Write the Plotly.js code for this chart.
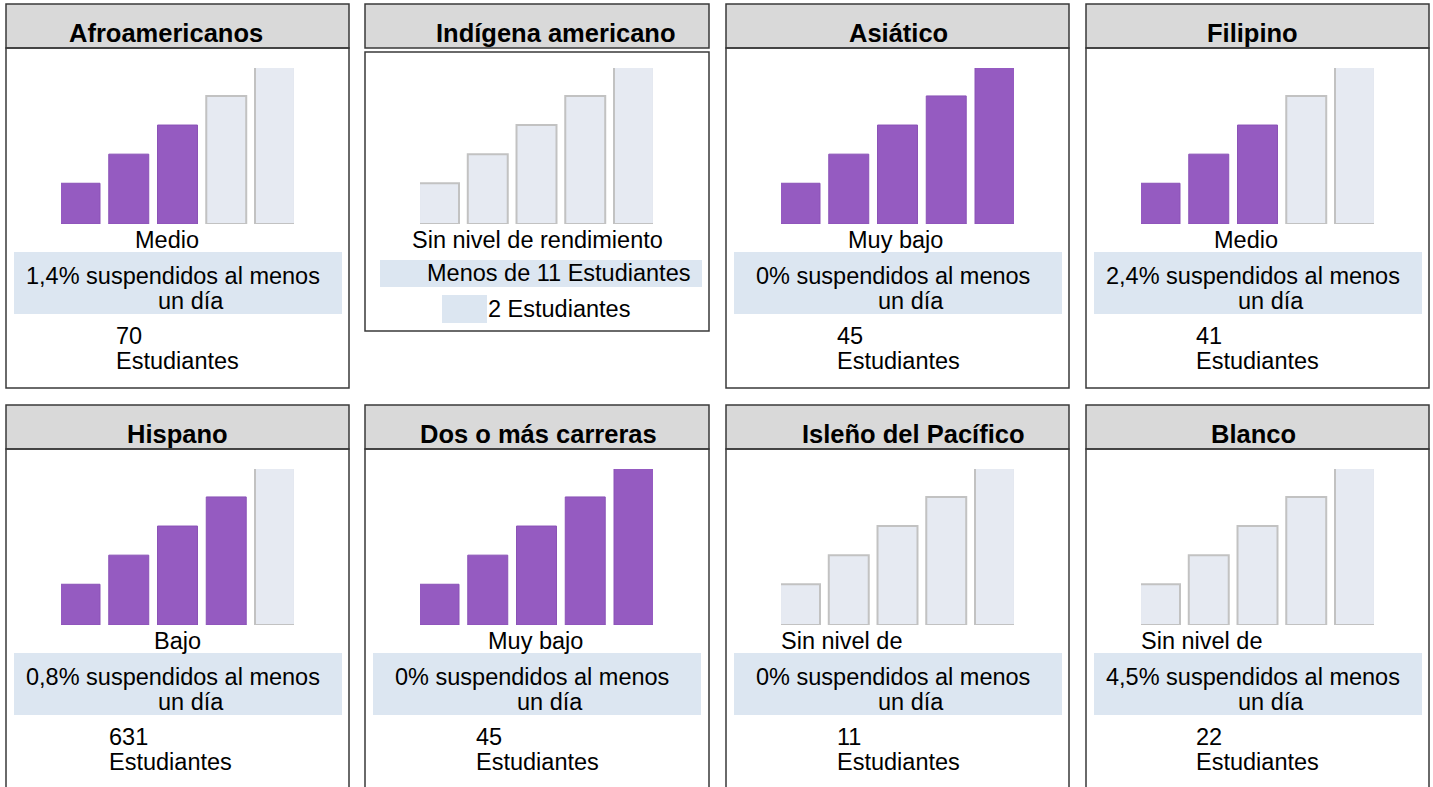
<!DOCTYPE html>
<html>
<head>
<meta charset="utf-8">
<script src="https://cdn.plot.ly/plotly-3.0.1.min.js"></script>
<style>
  html, body { margin: 0; padding: 0; background: #ffffff; }
  #chart { width: 1433px; height: 787px; }
</style>
</head>
<body>
<div id="chart"></div>
<script>
// ---------------- DATA ----------------
const groups = ["Afroamericanos", "Indígena americano", "Asiático", "Filipino",
                "Hispano", "Dos o más carreras", "Isleño del Pacífico", "Blanco"];
const levelLabels = ["Medio", "Sin nivel de rendimiento", "Muy bajo", "Medio",
                     "Bajo", "Muy bajo", "Sin nivel de", "Sin nivel de"];
const filledBars = [3, 0, 5, 3, 4, 5, 0, 0];
const suspendedPct = ["1,4%", null, "0%", "2,4%", "0,8%", "0%", "0%", "4,5%"];
const studentCounts = [70, 2, 45, 41, 631, 45, 11, 22];
const barIndex = [0, 1, 2, 3, 4];
const tierHeights = [1.4, 2.4, 3.4, 4.4, 5.4];
const smallGroupNote = "Menos de 11 Estudiantes";

// ---------------- LAYOUT (pixels) ----------------
const W = 1433, H = 787;
const colLeft = [6, 365, 726, 1086];
const colRight = [349, 709, 1069, 1429];
const rowTop = [4, 405];
const titleX = [166, 556, 898, 1252, 177.5, 538, 914, 1253];
const labelShift = [-10.5, 0, -2.5, -11.5, 0, -2, 0, 0];
const countLeft = [108, 108, 109, 108, 101, 109, 109, 108];

const PURPLE = "#955bc1", PURPLE_EDGE = "#8a52b6";
const GREYBAR = "#e6eaf2", GREY_EDGE = "#c2c2c2";
const HEADER = "#d9d9d9", BORDER = "#3a3a3a", BLUEBOX = "#dce6f1";
const FONT = "Liberation Sans, Arial, sans-serif";

const px = x => x / W;
const py = y => 1 - y / H;

const traces = [];
const shapes = [];
const annotations = [];
const layout = {
  width: W, height: H,
  margin: {l: 0, r: 0, t: 0, b: 0},
  paper_bgcolor: "#ffffff", plot_bgcolor: "rgba(0,0,0,0)",
  showlegend: false,
  bargap: 0,
  font: {family: FONT, color: "#000000"}
};

function txt(x, y, text, size, opts) {
  annotations.push(Object.assign({
    xref: "paper", yref: "paper", x: px(x), y: py(y),
    xanchor: "center", yanchor: "middle", showarrow: false,
    text: text, font: {family: FONT, size: size, color: "#000000"}
  }, opts || {}));
}

for (let i = 0; i < groups.length; i++) {
  const c = i % 4, r = Math.floor(i / 4);
  const L = colLeft[c], R = colRight[c], T = rowTop[r];
  const cx = (L + R) / 2;
  const n = i + 1;
  const xa = n === 1 ? "xaxis" : "xaxis" + n;
  const ya = n === 1 ? "yaxis" : "yaxis" + n;

  // bars
  const colors = barIndex.map(k => k < filledBars[i] ? PURPLE : GREYBAR);
  const edges = barIndex.map(k => k < filledBars[i] ? PURPLE_EDGE : GREY_EDGE);
  const edgeW = barIndex.map(k => k < filledBars[i] ? 1 : 2);
  traces.push({
    type: "bar", x: barIndex, y: tierHeights, width: 0.82,
    xaxis: n === 1 ? "x" : "x" + n, yaxis: n === 1 ? "y" : "y" + n,
    marker: {color: colors, line: {color: edges, width: edgeW}},
    hoverinfo: "skip"
  });
  layout[xa] = {domain: [px(L + 55), px(L + 288)], range: [-0.39, 4.39],
    visible: false, fixedrange: true, anchor: n === 1 ? "y" : "y" + n};
  layout[ya] = {domain: [py(T + 220), py(T + 64)], range: [0, 5.36],
    visible: false, fixedrange: true, anchor: n === 1 ? "x" : "x" + n};

  // header
  shapes.push({type: "rect", xref: "paper", yref: "paper", layer: "below",
    x0: px(L), x1: px(R), y0: py(T), y1: py(T + 44),
    fillcolor: HEADER, line: {color: BORDER, width: 1.5}});
  // body
  let bTop = T + 44, bBot = r === 0 ? 388 : 820;
  if (i === 1) { bTop = 52; bBot = 331; }
  shapes.push({type: "rect", xref: "paper", yref: "paper", layer: "below",
    x0: px(L), x1: px(R), y0: py(bTop), y1: py(bBot),
    fillcolor: "rgba(0,0,0,0)", line: {color: BORDER, width: 1.5}});

  txt(titleX[i], T + 29, "<b>" + groups[i] + "</b>", 25.5);

  // level label
  if (levelLabels[i] === "Sin nivel de") {
    txt(L + 53, T + 236, levelLabels[i], 23.5, {xanchor: "left"});
  } else {
    txt(cx + labelShift[i], T + 236, levelLabels[i], 23.5);
  }

  if (suspendedPct[i] !== null) {
    shapes.push({type: "rect", xref: "paper", yref: "paper", layer: "below",
      x0: px(L + 8), x1: px(L + 336), y0: py(T + 248), y1: py(T + 310),
      fillcolor: BLUEBOX, line: {width: 0}});
    txt(cx - 5, T + 272, suspendedPct[i] + " suspendidos al menos", 23.5);
    txt(cx + 13, T + 297, "un día", 23.5);
    txt(L + countLeft[i], T + 332, String(studentCounts[i]), 23.5, {xanchor: "left"});
    txt(L + countLeft[i], T + 357, "Estudiantes", 23.5, {xanchor: "left"});
  } else {
    shapes.push({type: "rect", xref: "paper", yref: "paper", layer: "below",
      x0: px(380), x1: px(702), y0: py(260), y1: py(287),
      fillcolor: BLUEBOX, line: {width: 0}});
    shapes.push({type: "rect", xref: "paper", yref: "paper", layer: "below",
      x0: px(442), x1: px(487), y0: py(295), y1: py(323),
      fillcolor: BLUEBOX, line: {width: 0}});
    txt(558.5, 273, smallGroupNote, 23.5);
    txt(558.5, 309, studentCounts[i] + " Estudiantes", 23.5);
  }
}

layout.shapes = shapes;
layout.annotations = annotations;

Plotly.newPlot("chart", traces, layout, {displayModeBar: false, staticPlot: true});
</script>
</body>
</html>
